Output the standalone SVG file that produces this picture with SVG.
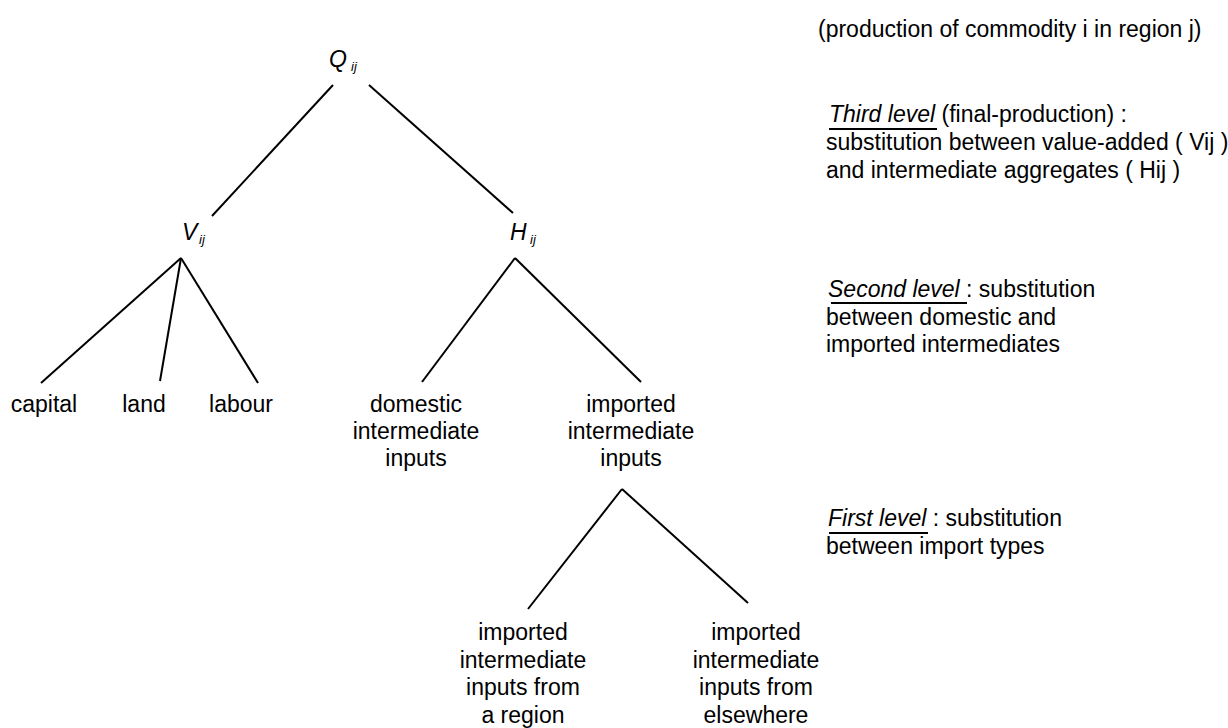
<svg xmlns="http://www.w3.org/2000/svg" width="1228" height="728" viewBox="0 0 1228 728">
<style>
text{font-family:"Liberation Sans",Arial,sans-serif;font-size:23px;fill:#000}
.c{text-anchor:middle}
.i{font-style:italic}
.s{font-size:13px;font-style:italic}
.ln{stroke:#000;stroke-width:2;fill:none}
</style>
<rect width="1228" height="728" fill="#fff"/>
<g id="connectors" class="ln">
<line x1="333" y1="85" x2="212" y2="216"/>
<line x1="369" y1="85" x2="513" y2="213"/>
<line x1="181" y1="258" x2="41" y2="383"/>
<line x1="181" y1="258" x2="160" y2="381"/>
<line x1="181" y1="258" x2="258" y2="383"/>
<line x1="515" y1="258" x2="422" y2="382"/>
<line x1="515" y1="258" x2="641" y2="382"/>
<line x1="622" y1="489" x2="528" y2="609"/>
<line x1="622" y1="489" x2="748" y2="603"/>
</g>
<g id="node-Q"><text x="329" y="67" class="i">Q</text><text x="351" y="71" class="s">ij</text></g>
<g id="node-V"><text x="182" y="240" class="i">V</text><text x="199" y="244" class="s">ij</text></g>
<g id="node-H"><text x="510" y="240" class="i">H</text><text x="530" y="244" class="s">ij</text></g>
<g id="node-capital"><text x="44" y="412" class="c">capital</text></g>
<g id="node-land"><text x="144" y="412" class="c">land</text></g>
<g id="node-labour"><text x="241" y="412" class="c">labour</text></g>
<g id="node-domestic"><text class="c" x="416" y="412">domestic<tspan x="416" dy="27">intermediate</tspan><tspan x="416" dy="27">inputs</tspan></text></g>
<g id="node-imported"><text class="c" x="631" y="412">imported<tspan x="631" dy="27">intermediate</tspan><tspan x="631" dy="27">inputs</tspan></text></g>
<g id="node-region"><text class="c" x="523" y="640">imported<tspan x="523" dy="27.5">intermediate</tspan><tspan x="523" dy="27.5">inputs from</tspan><tspan x="523" dy="27.5">a region</tspan></text></g>
<g id="node-elsewhere"><text class="c" x="756" y="640">imported<tspan x="756" dy="27.5">intermediate</tspan><tspan x="756" dy="27.5">inputs from</tspan><tspan x="756" dy="27.5">elsewhere</tspan></text></g>
<g id="legend">
<text x="818" y="37">(production of commodity i in region j)</text>
<text x="829" y="122"><tspan class="i">Third level</tspan> (final-production) :<tspan x="826" dy="28">substitution between value-added ( Vij )</tspan><tspan x="826" dy="28">and intermediate aggregates ( Hij )</tspan></text>
<line class="ln" x1="829" y1="129" x2="937" y2="129"/>
<text x="828" y="297"><tspan class="i">Second level</tspan>  : substitution<tspan x="826" dy="27.5">between domestic and</tspan><tspan x="826" dy="27.5">imported intermediates</tspan></text>
<line class="ln" x1="831" y1="303" x2="967" y2="303"/>
<text x="828" y="526"><tspan class="i">First level</tspan>  : substitution<tspan x="826" dy="27.5">between import types</tspan></text>
<line class="ln" x1="829" y1="533" x2="928" y2="533"/>
</g>
</svg>
